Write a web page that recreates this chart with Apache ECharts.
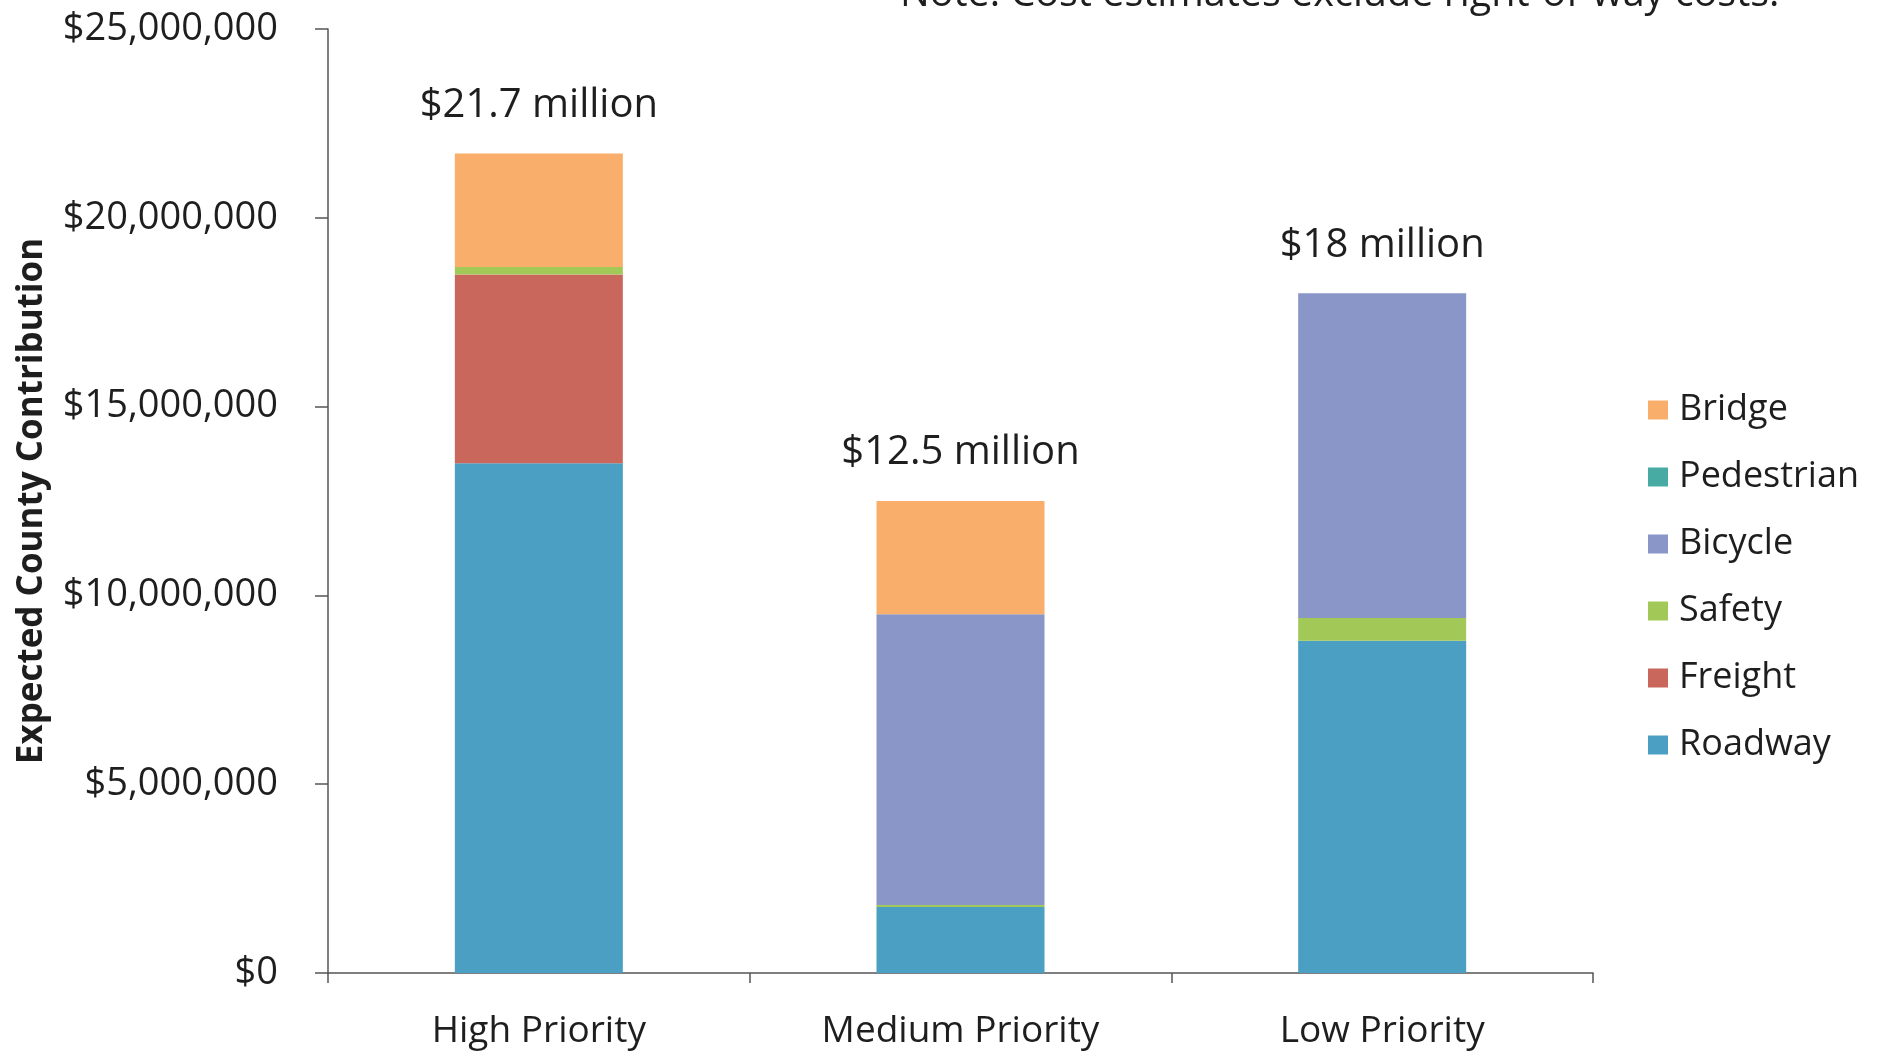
<!DOCTYPE html>
<html>
<head>
<meta charset="utf-8">
<title>Expected County Contribution by Priority</title>
<script src="https://cdn.jsdelivr.net/npm/echarts@6/dist/echarts.min.js"></script>
<style>
  html, body { margin: 0; padding: 0; background: #ffffff; }
  #chart { width: 1881px; height: 1051px; }
</style>
</head>
<body>
<div id="chart"></div>
<script>
// Priority tiers along the x axis
const categories = ['High Priority', 'Medium Priority', 'Low Priority'];

// County contribution per project type, in dollars (stacked bottom to top)
const roadway    = [13500000, 1750000, 8800000];
const freight    = [5000000, 0, 0];
const safety     = [200000, 50000, 600000];
const bicycle    = [0, 7700000, 8600000];
const pedestrian = [0, 0, 0];
const bridge     = [3000000, 3000000, 0];

// Y axis tick values
const yTicks = [0, 5000000, 10000000, 15000000, 20000000, 25000000];

const noteText = 'Note: Cost estimates exclude right-of-way costs.';

const stackOrder = [
  { name: 'Roadway',    data: roadway,    color: '#4A9FC2' },
  { name: 'Freight',    data: freight,    color: '#C9675D' },
  { name: 'Safety',     data: safety,     color: '#A2C957' },
  { name: 'Bicycle',    data: bicycle,    color: '#8A95C8' },
  { name: 'Pedestrian', data: pedestrian, color: '#47ABA4' },
  { name: 'Bridge',     data: bridge,     color: '#F9AF6B' }
];

// Bar totals, summed from the segments
const totals = categories.map((_, i) =>
  stackOrder.reduce((s, sr) => s + sr.data[i], 0));

function fmtMillion(v) {
  const m = Math.round(v / 100000) / 10;
  return '$' + (Number.isInteger(m) ? m.toFixed(0) : m.toFixed(1)) + ' million';
}
function fmtDollar(v) {
  return '$' + v.toLocaleString('en-US');
}

const FONT = '"Open Sans", "Noto Sans", sans-serif';
const TXT = '#1e1e1e';
const AXIS = '#555555';

const series = stackOrder.map(s => ({
  name: s.name,
  type: 'bar',
  stack: 'total',
  barWidth: 168,
  itemStyle: { color: s.color },
  data: s.data
}));

// Zero-height cap on each stack that carries the total label
series.push({
  name: 'Total',
  type: 'bar',
  stack: 'total',
  barWidth: 168,
  itemStyle: { color: 'transparent' },
  data: totals.map(() => 0),
  label: {
    show: true,
    position: 'top',
    distance: 28,
    fontFamily: FONT,
    fontSize: 40,
    color: TXT,
    formatter: p => fmtMillion(totals[p.dataIndex])
  },
  tooltip: { show: false }
});

const chart = echarts.init(document.getElementById('chart'), null, { renderer: 'canvas' });

chart.setOption({
  animation: false,
  backgroundColor: '#ffffff',
  textStyle: { fontFamily: FONT },
  grid: { left: 328, right: 288, top: 29, bottom: 78, containLabel: false, outerBoundsMode: 'none' },
  legend: {
    orient: 'vertical',
    left: 1643,
    top: 385,
    icon: 'rect',
    itemWidth: 20,
    itemHeight: 19,
    itemGap: 27,
    data: ['Bridge', 'Pedestrian', 'Bicycle', 'Safety', 'Freight', 'Roadway'],
    textStyle: { fontFamily: FONT, fontSize: 36, color: TXT, lineHeight: 40, padding: [0, 0, 0, 6] }
  },
  xAxis: {
    type: 'category',
    data: categories,
    axisLine: { lineStyle: { color: AXIS, width: 1.5 } },
    axisTick: { show: true, length: 10, lineStyle: { color: AXIS, width: 1.5 } },
    axisLabel: { fontFamily: FONT, fontSize: 37, color: TXT, margin: 40 },
    splitLine: { show: false }
  },
  yAxis: {
    type: 'value',
    min: yTicks[0],
    max: yTicks[yTicks.length - 1],
    interval: yTicks[1] - yTicks[0],
    name: 'Expected County Contribution',
    nameLocation: 'middle',
    nameRotate: 90,
    nameGap: 278,
    nameTextStyle: { fontFamily: FONT, fontSize: 35, fontWeight: 'bold', color: TXT },
    axisLine: { show: true, lineStyle: { color: AXIS, width: 1.5 } },
    axisTick: { show: true, length: 13, lineStyle: { color: AXIS, width: 1.5 } },
    axisLabel: { fontFamily: FONT, fontSize: 38, color: TXT, margin: 50, formatter: fmtDollar },
    splitLine: { show: false }
  },
  graphic: [{
    type: 'text',
    x: 900,
    y: -5,
    style: {
      text: noteText,
      font: '39.5px ' + FONT,
      fill: TXT,
      verticalAlign: 'middle',
      align: 'left'
    }
  }],
  series: series
});
</script>
</body>
</html>
